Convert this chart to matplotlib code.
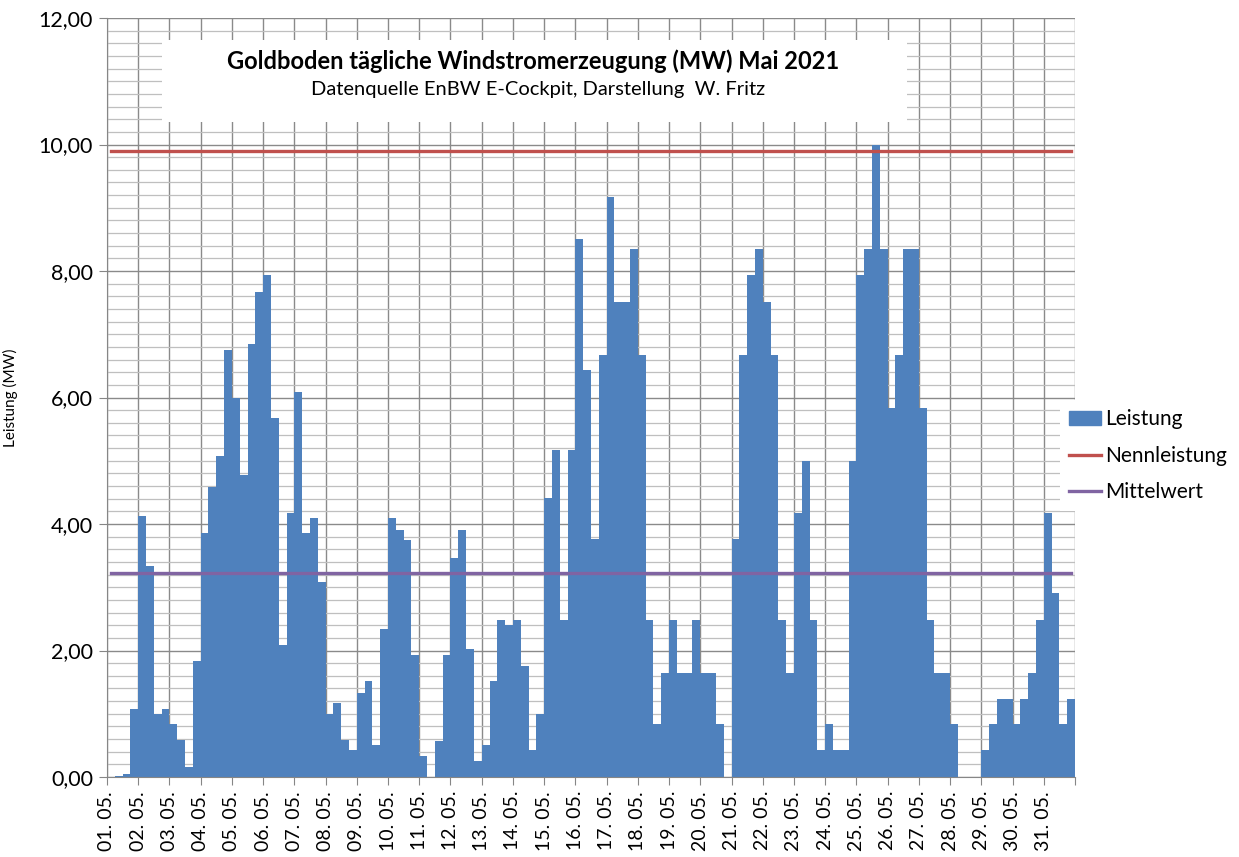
import numpy as np
import matplotlib
matplotlib.use('Agg')
import matplotlib.pyplot as plt
from matplotlib.patches import Rectangle, Patch
from matplotlib.lines import Line2D

plt.rcParams['font.family'] = ['Lato', 'DejaVu Sans']

# 6-hourly values (MW), 4 per day, 01.05. - 31.05.2021
leistung = [
    0.00, 0.02, 0.05, 1.07,   # 01.
    4.13, 3.33, 1.00, 1.08,   # 02.
    0.84, 0.58, 0.16, 1.83,   # 03.
    3.85, 4.59, 5.08, 6.75,   # 04.
    6.00, 4.77, 6.85, 7.67,   # 05.
    7.93, 5.67, 2.08, 4.17,   # 06.
    6.09, 3.85, 4.09, 3.08,   # 07.
    1.00, 1.17, 0.58, 0.43,   # 08.
    1.33, 1.51, 0.50, 2.34,   # 09.
    4.09, 3.91, 3.75, 1.93,   # 10.
    0.33, 0.00, 0.57, 1.93,   # 11.
    3.46, 3.91, 2.03, 0.25,   # 12.
    0.50, 1.51, 2.49, 2.41,   # 13.
    2.49, 1.75, 0.43, 1.00,   # 14.
    4.41, 5.17, 2.49, 5.17,   # 15.
    8.50, 6.43, 3.76, 6.67,   # 16.
    9.17, 7.51, 7.51, 8.35,   # 17.
    6.67, 2.49, 0.84, 1.65,   # 18.
    2.49, 1.65, 1.65, 2.49,   # 19.
    1.65, 1.65, 0.84, 0.00,   # 20.
    3.76, 6.67, 7.93, 8.35,   # 21.
    7.51, 6.67, 2.49, 1.65,   # 22.
    4.17, 5.00, 2.49, 0.43,   # 23.
    0.84, 0.43, 0.43, 5.00,   # 24.
    7.93, 8.35, 10.00, 8.35,  # 25.
    5.84, 6.67, 8.35, 8.35,   # 26.
    5.84, 2.49, 1.65, 1.65,   # 27.
    0.84, 0.00, 0.00, 0.00,   # 28.
    0.43, 0.84, 1.24, 1.24,   # 29.
    0.84, 1.24, 1.65, 2.49,   # 30.
    4.17, 2.91, 0.84, 1.24,   # 31.
]
nennleistung = 9.90
mittelwert = 3.22
tage = ['%02d. 05.' % d for d in range(1, 32)]
y_ticks = [0, 2, 4, 6, 8, 10, 12]

title = 'Goldboden tägliche Windstromerzeugung (MW) Mai 2021'
subtitle = 'Datenquelle EnBW E-Cockpit, Darstellung  W. Fritz'

blue = '#4F81BD'
red = '#C0504D'
purple = '#8064A2'

fig = plt.figure(figsize=(12.39, 8.57), dpi=100)
ax = fig.add_axes([107 / 1239, 1 - 777 / 857, 968 / 1239, 759 / 857])

x = np.arange(len(leistung)) * 0.25
ax.bar(x, leistung, width=0.25, align='edge', color=blue, linewidth=0, zorder=1)

xc = x + 0.125
ax.plot([xc[0], xc[-1]], [nennleistung, nennleistung], color=red, lw=2.4, zorder=2)
ax.plot([xc[0], xc[-1]], [mittelwert, mittelwert], color=purple, lw=2.4, zorder=2)

ax.set_xlim(0, 31)
ax.set_ylim(0, 12)
ax.set_xticks(np.arange(32))
ax.set_xticklabels(tage + [''], rotation=90, fontsize=14)
ax.set_yticks(y_ticks)
ax.set_yticklabels([('%.2f' % v).replace('.', ',') for v in y_ticks], fontsize=15.5)
ax.set_yticks(np.arange(0, 12.01, 0.2), minor=True)
ax.tick_params(axis='y', which='minor', length=0)
ax.tick_params(axis='both', which='major', length=6, color='#868686', pad=4)

ax.grid(True, which='major', axis='both', color='#8a8a8a', lw=1.0)
ax.grid(True, which='minor', axis='y', color='#bfbfbf', lw=0.9)
ax.set_axisbelow(True)

for s in ['top', 'right']:
    ax.spines[s].set_visible(False)
for s in ['left', 'bottom']:
    ax.spines[s].set_color('#868686')

ax.set_ylabel('Leistung (MW)', fontsize=11)
ax.yaxis.set_label_coords(-0.092, 0.5)

# white title box
ax.add_patch(Rectangle((55 / 968, (777 - 122) / 759), (907 - 162) / 968, 82 / 759,
                       transform=ax.transAxes, facecolor='white', edgecolor='none',
                       zorder=3))
fig.text(533 / 1239, 1 - 61 / 857, title, ha='center', va='center',
         fontsize=17, fontweight='bold')
fig.text(538 / 1239, 1 - 90 / 857, subtitle, ha='center', va='center',
         fontsize=14.5)

handles = [Patch(color=blue, label='Leistung'),
           Line2D([], [], color=red, lw=2.4, label='Nennleistung'),
           Line2D([], [], color=purple, lw=2.4, label='Mittelwert')]
leg = fig.legend(handles=handles, loc='upper left',
                 bbox_to_anchor=(1060 / 1239, 1 - 400 / 857),
                 frameon=True, fancybox=False, edgecolor='none', framealpha=1,
                 fontsize=15, handlelength=1.5, handleheight=0.6,
                 handletextpad=0.2, labelspacing=0.78, borderpad=0.45,
                 borderaxespad=0)

fig.savefig('out.png', dpi=100)
